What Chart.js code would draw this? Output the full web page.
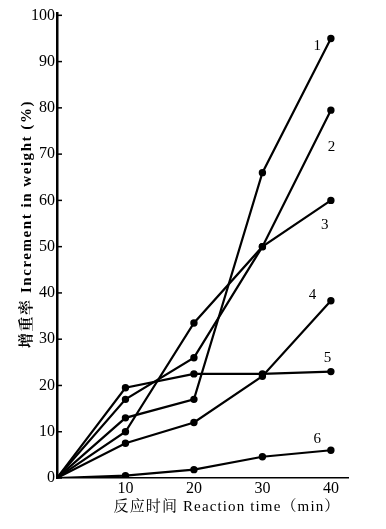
<!DOCTYPE html>
<html>
<head>
<meta charset="utf-8">
<script src="https://cdn.jsdelivr.net/npm/chart.js@4.4.1/dist/chart.umd.min.js"></script>
<style>
html,body{margin:0;padding:0;background:#fff;}
#wrap{width:386px;height:529px;position:relative;}
</style>
</head>
<body>
<div id="wrap"><canvas id="c" width="386" height="529"></canvas></div>
<script>
const xValues = [0, 10, 20, 30, 40];
const s1 = [0, 13, 17, 66, 95];
const s2 = [0, 17, 26, 50, 79.5];
const s3 = [0, 10, 33.5, 50, 60];
const s4 = [0, 7.5, 12, 22, 38.3];
const s5 = [0, 19.5, 22.5, 22.5, 23];
const s6 = [0, 0.5, 1.8, 4.6, 6];
const seriesNames = ['1', '2', '3', '4', '5', '6'];
const nameX = [38, 40.1, 39.1, 37.3, 39.5, 38];
const nameY = [93.4, 71.5, 54.7, 39.5, 26, 8.4];
const xTicks = [10, 20, 30, 40];
const yTicks = [0, 10, 20, 30, 40, 50, 60, 70, 80, 90, 100];
const xTitle = '反应时间 Reaction time（min）';
const yTitle = '增重率 Increment in weight (%)';

const allSeries = [s1, s2, s3, s4, s5, s6];
const FONT = '"Liberation Serif", "Noto Serif CJK SC", "Noto Sans CJK SC", serif';

const datasets = allSeries.map((s, i) => ({
  label: seriesNames[i],
  data: xValues.map((x, j) => ({x: x, y: s[j]})),
  borderColor: '#000',
  backgroundColor: '#000',
  borderWidth: 2.2,
  pointRadius: xValues.map((x) => x === 0 ? 0 : 2.6),
  pointHoverRadius: 0,
  tension: 0,
  fill: false
}));

function drawSpaced(ctx, text, cx, cy, target) {
  ctx.letterSpacing = '0px';
  const w = ctx.measureText(text).width;
  const n = [...text].length;
  const sp = Math.max(0, (target - w) / n);
  ctx.letterSpacing = sp.toFixed(2) + 'px';
  const w2 = ctx.measureText(text).width;
  ctx.textAlign = 'left';
  ctx.textBaseline = 'middle';
  ctx.fillText(text, cx - w2 / 2, cy);
  ctx.letterSpacing = '0px';
}

const decor = {
  id: 'decor',
  afterDraw(chart) {
    const ctx = chart.ctx;
    const xs = chart.scales.x, ys = chart.scales.y;
    const ca = chart.chartArea;
    ctx.save();
    ctx.fillStyle = '#000';
    ctx.strokeStyle = '#000';
    ctx.lineWidth = 1.5;
    yTicks.forEach(v => {
      const py = ys.getPixelForValue(v);
      ctx.beginPath();
      ctx.moveTo(ca.left, py);
      ctx.lineTo(ca.left + 5, py);
      ctx.stroke();
    });
    ctx.font = '15px ' + FONT;
    ctx.textAlign = 'center';
    ctx.textBaseline = 'middle';
    seriesNames.forEach((n, i) => {
      ctx.fillText(n, xs.getPixelForValue(nameX[i]), ys.getPixelForValue(nameY[i]));
    });
    ctx.font = '15px ' + FONT;
    drawSpaced(ctx, xTitle, 227, 507, 227);
    ctx.save();
    ctx.translate(27, 224);
    ctx.rotate(-Math.PI / 2);
    ctx.font = 'bold 15px ' + FONT;
    drawSpaced(ctx, yTitle, 0, 0, 248);
    ctx.restore();
    ctx.restore();
  }
};

new Chart(document.getElementById('c'), {
  type: 'line',
  data: {datasets: datasets},
  plugins: [decor],
  options: {
    responsive: false,
    animation: false,
    events: [],
    layout: {padding: {top: 13, right: 38, left: 0, bottom: 0}},
    plugins: {legend: {display: false}, tooltip: {enabled: false}, title: {display: false}},
    scales: {
      x: {
        type: 'linear',
        min: 0,
        max: 42.5,
        afterBuildTicks: (s) => { s.ticks = xTicks.map(v => ({value: v})); },
        afterFit: (s) => { s.height = 51; },
        grid: {display: false, drawTicks: false},
        border: {display: true, color: '#000', width: 1.6},
        ticks: {color: '#000', font: {family: FONT, size: 16}, padding: 1, maxRotation: 0}
      },
      y: {
        type: 'linear',
        min: 0,
        max: 100.5,
        afterBuildTicks: (s) => { s.ticks = yTicks.map(v => ({value: v})); },
        afterFit: (s) => { s.width = 57; },
        grid: {display: false, drawTicks: false},
        border: {display: true, color: '#000', width: 2.5},
        ticks: {color: '#000', font: {family: FONT, size: 16}, padding: 2}
      }
    }
  }
});
</script>
</body>
</html>
